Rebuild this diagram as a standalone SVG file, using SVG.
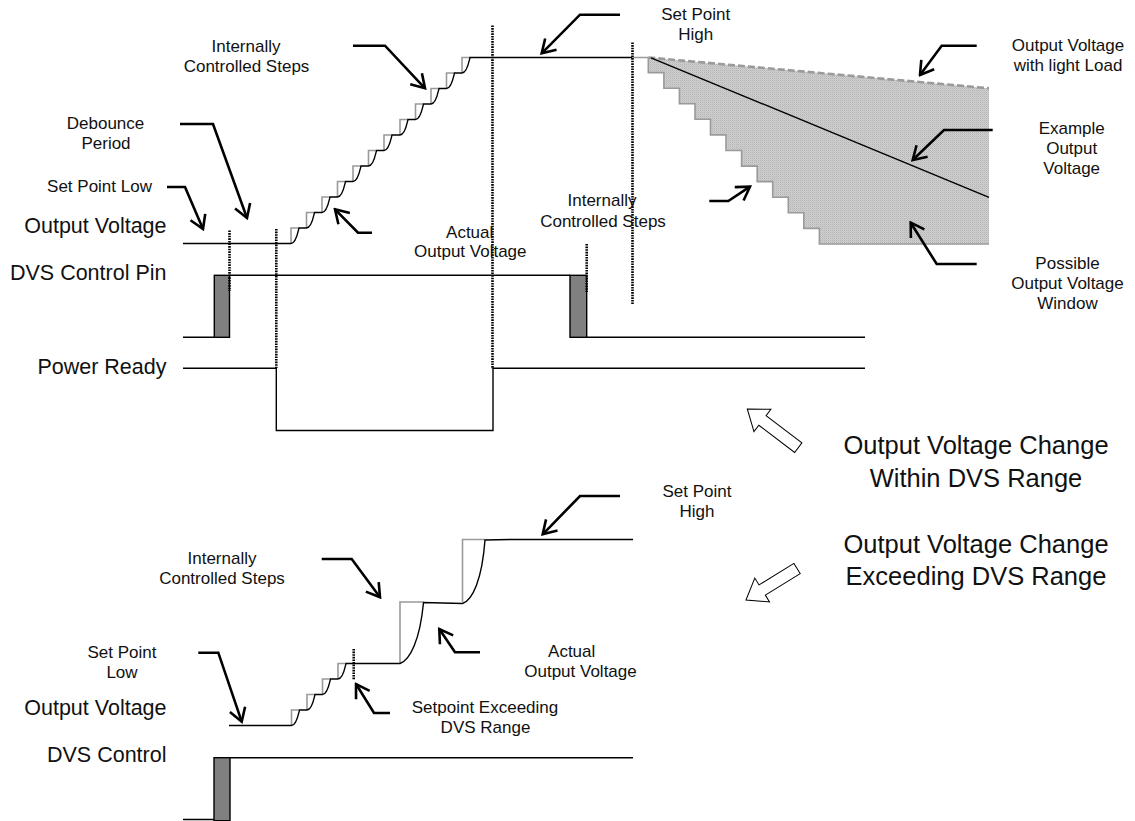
<svg xmlns="http://www.w3.org/2000/svg" width="1135" height="821" viewBox="0 0 1135 821">
<style>
text{font-family:"Liberation Sans",Arial,sans-serif;fill:#111}
.s{font-size:17px;text-anchor:middle}
.m{font-size:21.5px;text-anchor:end}
.l{font-size:25.5px;text-anchor:middle}
.w{fill:none;stroke:#000;stroke-width:1.4}
.g{fill:none;stroke:#9a9a9a;stroke-width:1.6}
.dot{fill:none;stroke:#000;stroke-width:2.6;stroke-dasharray:1.6 1}
.co{fill:none;stroke:#000;stroke-width:2.6;marker-end:url(#ah)}
.pulse{fill:#808080;stroke:#000;stroke-width:1.4}
.blk{fill:#fff;stroke:#000;stroke-width:1}
</style>
<defs>
<marker id="ah" viewBox="-16 -10 18 20" refX="0" refY="0" markerWidth="18" markerHeight="20" markerUnits="userSpaceOnUse" orient="auto">
<path d="M-13,-8 L0,0 L-13,8" fill="none" stroke="#000" stroke-width="2.6"/>
</marker>
<pattern id="hatch" patternUnits="userSpaceOnUse" width="2" height="2">
<rect width="2" height="2" fill="#d0d0d0"/>
<rect width="1" height="1" fill="#b4b4b4"/>
<rect x="1" y="1" width="1" height="1" fill="#c2c2c2"/>
</pattern>
</defs>
<rect width="1135" height="821" fill="#fff"/>

<g id="window">
<path d="M648.3,57.5 L989,88.3 V244 H819.4 V228.4 H803.8 V212.8 H788.3 V197.2 H772.7 V181.6 H757.2 V166.1 H741.6 V150.5 H726 V134.9 H710.5 V119.3 H695 V103.7 H679.4 V88.2 H663.9 V72.6 H648.3 Z" fill="url(#hatch)"/>
<path class="g" d="M648.3,57.5 V72.6 H663.9 V88.2 H679.4 V103.7 H695 V119.3 H710.5 V134.9 H726 V150.5 H741.6 V166.1 H757.2 V181.6 H772.7 V197.2 H788.3 V212.8 H803.8 V228.4 H819.4 V244 H989"/>
<path d="M648.3,57.5 L989,88.3" fill="none" stroke="#9a9a9a" stroke-width="2.6" stroke-dasharray="7 3"/>
<path d="M651,57.8 L989,197.3" fill="none" stroke="#000" stroke-width="1.4"/>
</g>

<g id="top-output-voltage">
<path class="g" d="M291,243.5V228H299 M306.5,228V212.5H314.5 M322,212.5V197H330 M337.5,197V181.5H345.5 M353,181.5V166H361 M368.5,166V150.5H376.5 M384,150.5V135H392 M400,135V119.5H408 M415.5,119.5V104H423.5 M431,104V88.5H439 M446.5,88.5V73H454.5 M462,73V57.5H470 M632,57.5H648.3"/>
<path class="w" d="M183,243.5 H291 C296,243.5 298,232 299,228 H306.5 C311.5,228 313.5,216.5 314.5,212.5 H322 C327,212.5 329,201 330,197 H337.5 C342.5,197 344.5,185.5 345.5,181.5 H353 C358,181.5 360,170 361,166 H368.5 C373.5,166 375.5,154.5 376.5,150.5 H384 C389,150.5 391,139 392,135 H400 C405,135 407,123.5 408,119.5 H415.5 C420.5,119.5 422.5,108 423.5,104 H431 C436,104 438,92.5 439,88.5 H446.5 C451.5,88.5 453.5,77 454.5,73 H462 C467,73 469,61.5 470,57.5 H632"/>
</g>

<g id="dvs-control-pin">
<path class="w" d="M183,337.3 H214.3 M229.5,275.3 H570 M586.7,337.3 H865"/>
<rect class="pulse" x="214.3" y="275.3" width="15.2" height="62"/>
<rect class="pulse" x="570" y="275.3" width="16.7" height="62"/>
</g>

<g id="power-ready">
<path class="w" d="M183,368.3 H276.3 V430.5 H493 V368.3 H865"/>
</g>

<g id="dotted-markers">
<path class="dot" d="M229.5,230.5 V291 M276.3,229 V368 M492.5,25.5 V369 M586.7,244 V292 M632.5,42.5 V305 M353.7,649 V680"/>
</g>

<g id="bottom-output-voltage">
<path class="g" d="M291.5,725.5V710H299.5 M307,710V694.5H315 M322.5,694.5V679H330.5 M338,679V663.5H346 M400,663.5V602H423.5 M462.5,602V539.5H485"/>
<path class="w" d="M229,725.5 H291.5 C296.5,725.5 298.5,714 299.5,710 H307 C312,710 314,698.5 315,694.5 H322.5 C327.5,694.5 329.5,683 330.5,679 H338 C343,679 345,667.5 346,663.5 H400 C410,660 420,640 423.5,602.5 L462.5,603.5 C472.5,600 482,580 485,540 L512,539.5 H633"/>
</g>

<g id="dvs-control">
<path class="w" d="M183,819.5 H214 M230,757.7 H633"/>
<rect class="pulse" x="214" y="757.7" width="16" height="63"/>
</g>

<g id="connectors">
<path class="co" d="M180,124 H213 L247,218"/>
<path class="co" d="M167,187 H185 L203,229"/>
<path class="co" d="M353,45.7 H385 L425,88.3"/>
<path class="co" d="M372,232.7 H358 L335,209.3"/>
<path class="co" d="M620,14.7 H580 L541.7,53.3"/>
<path class="co" d="M709.3,201 H728.3 L750,186.7"/>
<path class="co" d="M976.7,45.7 H941.7 L920,75"/>
<path class="co" d="M992.7,130 H944 L912.7,160"/>
<path class="co" d="M976.7,264 H936.7 L910.7,222.7"/>
<path class="co" d="M198.3,652.7 H218.3 L241.7,721.7"/>
<path class="co" d="M321.7,559 H351.7 L380,597.3"/>
<path class="co" d="M480,652.3 H455 L439.3,629"/>
<path class="co" d="M620,496 H580 L542.7,534.3"/>
<path class="co" d="M390,713 H374 L356,684"/>
<polygon class="blk" transform="translate(747.3,409) rotate(37.2)" points="0,0 19,-14 19,-6 64,-6 64,6 19,6 19,14"/>
<polygon class="blk" transform="translate(746,600) rotate(-31.7)" points="0,0 19,-14 19,-6 60,-6 60,6 19,6 19,14"/>
</g>

<g id="labels-top">
<text class="s" x="246" y="51.7">Internally</text>
<text class="s" x="246.5" y="71.7">Controlled Steps</text>
<text class="s" x="105.5" y="129">Debounce</text>
<text class="s" x="106" y="149">Period</text>
<text class="s" x="99.5" y="191.7">Set Point Low</text>
<text class="s" x="695.7" y="20">Set Point</text>
<text class="s" x="695.7" y="40">High</text>
<text class="s" x="602" y="206">Internally</text>
<text class="s" x="603" y="226.7">Controlled Steps</text>
<text class="s" x="469.7" y="237.5">Actual</text>
<text class="s" x="470.3" y="257">Output Voltage</text>
<text class="s" x="1068" y="50.7">Output Voltage</text>
<text class="s" x="1068" y="71">with light Load</text>
<text class="s" x="1071.7" y="134.3">Example</text>
<text class="s" x="1071.7" y="154.3">Output</text>
<text class="s" x="1071.7" y="174.3">Voltage</text>
<text class="s" x="1067.5" y="269.3">Possible</text>
<text class="s" x="1067.5" y="289.3">Output Voltage</text>
<text class="s" x="1067.5" y="309.3">Window</text>
<text class="m" x="166.5" y="233">Output Voltage</text>
<text class="m" x="166.5" y="279.5">DVS Control Pin</text>
<text class="m" x="166.5" y="373.5">Power Ready</text>
</g>

<g id="labels-mode">
<text class="l" x="976" y="454.3">Output Voltage Change</text>
<text class="l" x="976" y="486.7">Within DVS Range</text>
<text class="l" x="976" y="553">Output Voltage Change</text>
<text class="l" x="976" y="585">Exceeding DVS Range</text>
</g>

<g id="labels-bottom">
<text class="s" x="697" y="497">Set Point</text>
<text class="s" x="697" y="517">High</text>
<text class="s" x="222" y="564">Internally</text>
<text class="s" x="222" y="584">Controlled Steps</text>
<text class="s" x="122" y="657.7">Set Point</text>
<text class="s" x="122" y="677.7">Low</text>
<text class="s" x="571.7" y="656.7">Actual</text>
<text class="s" x="580.5" y="676.7">Output Voltage</text>
<text class="s" x="485" y="713">Setpoint Exceeding</text>
<text class="s" x="485.5" y="733">DVS Range</text>
<text class="m" x="166.5" y="715">Output Voltage</text>
<text class="m" x="166.5" y="761.7">DVS Control</text>
</g>
</svg>
